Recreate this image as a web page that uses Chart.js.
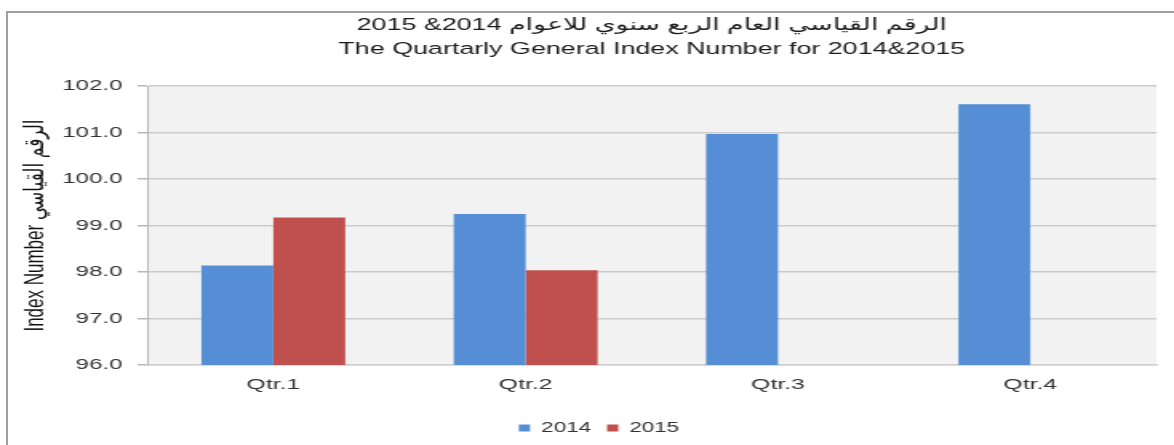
<!DOCTYPE html>
<html><head><meta charset="utf-8">
<script src="https://cdn.jsdelivr.net/npm/chart.js@4.4.1/dist/chart.umd.min.js"></script>
<style>
html,body{margin:0;padding:0;background:#fff;width:1174px;height:445px;overflow:hidden;}
#frame{position:absolute;left:6px;top:11px;width:1168px;height:434px;border-left:2px solid #a0a0a0;border-top:2px solid #a0a0a0;box-sizing:border-box;}
#c{position:absolute;left:0;top:0;transform:scaleX(1.5995);transform-origin:0 0;}
</style></head><body>
<div id="frame"></div>
<canvas id="c" width="734" height="445"></canvas>
<script>
const categories = ['Qtr.1', 'Qtr.2', 'Qtr.3', 'Qtr.4'];
const seriesLabels = ['2014', '2015'];
const values2014 = [98.14, 99.25, 100.97, 101.61];
const values2015 = [99.17, 98.04, null, null];
const yTicks = [96, 97, 98, 99, 100, 101, 102];
const titleLines = ['\u202Bالرقم القياسي العام الربع سنوي للاعوام 2014& 2015\u202C', 'The Quartarly General Index Number for 2014&2015'];
const yTitle = 'Index Number الرقم القياسي';

const FAMILY = '"Liberation Sans", Arial, "DejaVu Sans", sans-serif';

const plotBg = {
  id: 'plotBg',
  beforeDraw(chart) {
    const {ctx, chartArea: a} = chart;
    ctx.save();
    ctx.fillStyle = '#f2f2f2';
    ctx.fillRect(a.left, a.top, a.right - a.left, a.bottom - a.top);
    ctx.restore();
  }
};

new Chart(document.getElementById('c'), {
  type: 'bar',
  data: {
    labels: categories,
    datasets: [
      {label: seriesLabels[0], data: values2014, backgroundColor: '#558ed5'},
      {label: seriesLabels[1], data: values2015, backgroundColor: '#c0504d'}
    ]
  },
  plugins: [plotBg],
  options: {
    responsive: false,
    animation: false,
    devicePixelRatio: 1,
    layout: {padding: {left: 26, right: 11, top: 0, bottom: 0}},
    datasets: {bar: {categoryPercentage: 0.57, barPercentage: 1.0}},
    plugins: {
      title: {
        display: true,
        text: titleLines,
        fullSize: false,
        color: '#1a1a1a',
        font: {family: FAMILY, size: 16.8, weight: 'normal', lineHeight: '24px'},
        padding: {top: 13, bottom: 25}
      },
      legend: {
        position: 'bottom',
        labels: {
          boxWidth: 7, boxHeight: 7, padding: 10,
          color: '#333',
          font: {family: FAMILY, size: 14}
        }
      },
      tooltip: {enabled: false}
    },
    scales: {
      x: {
        grid: {display: false, drawTicks: false},
        border: {color: '#d0d0d0', width: 1.5},
        ticks: {color: '#333', padding: 10, font: {family: FAMILY, size: 15.5}},
        afterFit(s) { s.height = 46; }
      },
      y: {
        min: yTicks[0], max: yTicks[yTicks.length - 1],
        afterBuildTicks(s) { s.ticks = yTicks.map(v => ({value: v})); },
        ticks: {
          color: '#333', padding: 9.5,
          font: {family: FAMILY, size: 15},
          callback: v => Number(v).toFixed(1)
        },
        grid: {color: '#cbcbcb', lineWidth: 1.5, tickLength: 6, tickColor: '#b8b8b8'},
        border: {color: '#b8b8b8', width: 1},
        title: {
          display: true, text: yTitle, color: '#111',
          font: {family: FAMILY, size: 17},
          padding: {top: -14, bottom: 0}
        },
        afterFit(s) { s.width = 66; }
      }
    }
  }
});
</script>
</body></html>
